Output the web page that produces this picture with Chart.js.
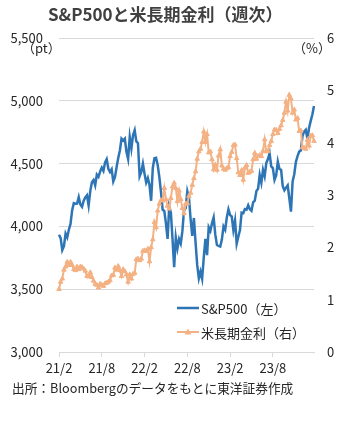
<!DOCTYPE html>
<html>
<head>
<meta charset="utf-8">
<script src="https://cdn.jsdelivr.net/npm/chart.js@4.4.0/dist/chart.umd.min.js"></script>
<style>
  body { margin: 0; background: #fff; font-family: "Noto Sans CJK JP", "Noto Sans", sans-serif; color: #262626; }
  #wrap { position: relative; width: 340px; height: 422px; overflow: hidden; }
  canvas { position: absolute; left: 0; top: 0; }
  .txt { position: absolute; white-space: nowrap; font-size: 13px; line-height: 13px; }
  #title { left: 48px; top: 5px; font-size: 17px; line-height: 17px; font-weight: bold; color: #404040; }
  .leg { position: absolute; left: 176px; height: 14px; display: flex; align-items: center; font-size: 13px; white-space: nowrap; }
  .leg svg { margin-right: 1px; }
</style>
</head>
<body>
<div id="wrap">
  <canvas id="chart" width="340" height="422"></canvas>
  <div id="title" class="txt">S&amp;P500と米長期金利（週次）</div>
  <div class="txt" style="left:22px; top:41px;">（pt）</div>
  <div class="txt" style="right:9px; top:41px;">（%）</div>
  <div class="leg" style="top:301px;">
    <svg width="24" height="8"><line x1="1" y1="4" x2="23" y2="4" stroke="#2E75B6" stroke-width="2.5"/></svg>S&amp;P500（左）
  </div>
  <div class="leg" style="top:325px;">
    <svg width="24" height="8"><line x1="1" y1="4" x2="23" y2="4" stroke="#F4B183" stroke-width="2"/><polygon points="12,0.5 15.5,6.5 8.5,6.5" fill="#F4B183"/></svg>米長期金利（右）
  </div>
  <div class="txt" style="left:12px; top:381px; font-size:12.7px;">出所：Bloombergのデータをもとに東洋証券作成</div>
</div>
<script>
// weekly closes, 2021/2/12 - 2024/2/2
const startDate = new Date(2021, 1, 12);
const tickLabels = ['21/2', '21/8', '22/2', '22/8', '23/2', '23/8'];
const tickEvery = 26;

const sp500 = [
  3934, 3907, 3811, 3842, 3943, 3913, 3975, 4020, 4129, 4185, 4180, 4181, 4233, 4174, 4156, 4204,
  4230, 4247, 4166, 4281, 4352, 4370, 4327, 4412, 4395, 4437, 4468, 4442, 4509, 4535, 4459, 4433,
  4455, 4357, 4391, 4471, 4545, 4605, 4698, 4683, 4698, 4595, 4538, 4712, 4620, 4726, 4766,
  4677, 4662, 4398, 4432, 4500, 4419, 4349, 4385, 4329, 4204, 4463, 4543, 4546, 4488, 4393, 4272,
  4132, 4123, 4024, 3901, 4158, 4109, 3901, 3675, 3912, 3825, 3899, 3863, 3962, 4130, 4145, 4280,
  4228, 4058, 3924, 4067, 3873, 3693, 3586, 3640, 3583, 3753, 3901, 3771, 3993, 3965, 4026, 4072,
  3934, 3852, 3845, 3840,
  3895, 3999, 3973, 4071, 4136, 4090, 4079, 3970, 4046, 3862, 3917, 3971, 4109, 4105, 4138, 4133,
  4169, 4136, 4124, 4192, 4205, 4282, 4299, 4410, 4348, 4450, 4399, 4505, 4536, 4582, 4478, 4464,
  4370, 4406, 4516, 4457, 4450, 4320, 4288, 4309, 4327, 4224, 4117, 4358, 4415, 4514, 4559, 4595,
  4604, 4719, 4755, 4770,
  4697, 4784, 4840, 4891, 4959
];

const us10y = [
  1.20, 1.34, 1.40, 1.57, 1.63, 1.72, 1.66, 1.72, 1.66, 1.58, 1.56, 1.63, 1.58, 1.63, 1.62, 1.59,
  1.55, 1.45, 1.44, 1.52, 1.43, 1.36, 1.30, 1.28, 1.23, 1.30, 1.28, 1.26, 1.31, 1.32, 1.34, 1.37,
  1.46, 1.47, 1.61, 1.57, 1.64, 1.56, 1.45, 1.58, 1.54, 1.48, 1.34, 1.48, 1.40, 1.49, 1.51,
  1.77, 1.78, 1.75, 1.78, 1.93, 1.94, 1.93, 1.97, 1.73, 2.00, 2.15, 2.48, 2.38, 2.70, 2.83, 2.90,
  2.89, 3.13, 2.92, 2.79, 2.74, 2.94, 3.16, 3.23, 3.13, 2.88, 3.08, 2.92, 2.75, 2.65, 2.83, 2.84,
  2.98, 3.04, 3.19, 3.32, 3.45, 3.69, 3.83, 3.88, 4.01, 4.21, 4.01, 4.16, 3.81, 3.83, 3.68, 3.49,
  3.58, 3.48, 3.75, 3.87,
  3.56, 3.50, 3.48, 3.51, 3.53, 3.74, 3.82, 3.95, 3.96, 3.70, 3.43, 3.38, 3.47, 3.29, 3.52, 3.57,
  3.42, 3.44, 3.46, 3.68, 3.80, 3.69, 3.74, 3.76, 3.74, 3.84, 4.06, 3.83, 3.84, 3.95, 4.03, 4.16,
  4.25, 4.24, 4.18, 4.26, 4.33, 4.43, 4.57, 4.78, 4.61, 4.91, 4.84, 4.57, 4.63, 4.44, 4.47, 4.22,
  4.23, 3.91, 3.90, 3.88,
  4.05, 3.94, 4.13, 4.14, 4.03
];

const weeks = sp500.map((_, i) => {
  const d = new Date(startDate.getTime() + i * 7 * 86400000);
  return d.getFullYear() + '/' + (d.getMonth() + 1) + '/' + d.getDate();
});

const tickFont = { family: '"Noto Sans CJK JP", "Noto Sans", sans-serif', size: 13 };
const tickColor = '#262626';
const gridColor = '#d9d9d9';

new Chart(document.getElementById('chart').getContext('2d'), {
  type: 'line',
  data: {
    labels: weeks,
    datasets: [
      {
        label: '米長期金利（右）', data: us10y, yAxisID: 'y2', order: 1,
        borderColor: '#F4B183', backgroundColor: '#F4B183', borderWidth: 2,
        pointStyle: 'triangle', pointRadius: 2.6, pointBorderWidth: 1, tension: 0
      },
      {
        label: 'S&P500（左）', data: sp500, yAxisID: 'y', order: 2,
        borderColor: '#2E75B6', borderWidth: 2.5, pointRadius: 0, tension: 0
      }
    ]
  },
  options: {
    responsive: false,
    animation: false,
    layout: { padding: { top: 38, left: 0, right: 0, bottom: 0 } },
    plugins: { legend: { display: false }, tooltip: { enabled: false } },
    scales: {
      x: {
        offset: false,
        afterFit: s => { s.height = 70; },
        border: { color: gridColor },
        grid: { drawOnChartArea: false, color: gridColor, tickLength: 5 },
        ticks: {
          autoSkip: false, maxRotation: 0, padding: 3, color: tickColor, font: tickFont,
          callback: (v, i) => (i % tickEvery === 0 ? tickLabels[i / tickEvery] : null)
        }
      },
      y: {
        position: 'left', min: 3000, max: 5500,
        afterFit: s => { s.width = 59; },
        border: { display: false },
        grid: { color: gridColor, drawTicks: false },
        ticks: { stepSize: 500, padding: 16, color: tickColor, font: tickFont,
          callback: v => v.toLocaleString('en-US') }
      },
      y2: {
        position: 'right', min: 0, max: 6,
        afterFit: s => { s.width = 26; },
        border: { display: false },
        grid: { display: false, drawTicks: false },
        ticks: { stepSize: 1, padding: 13, color: tickColor, font: tickFont }
      }
    }
  }
});
</script>
</body>
</html>
